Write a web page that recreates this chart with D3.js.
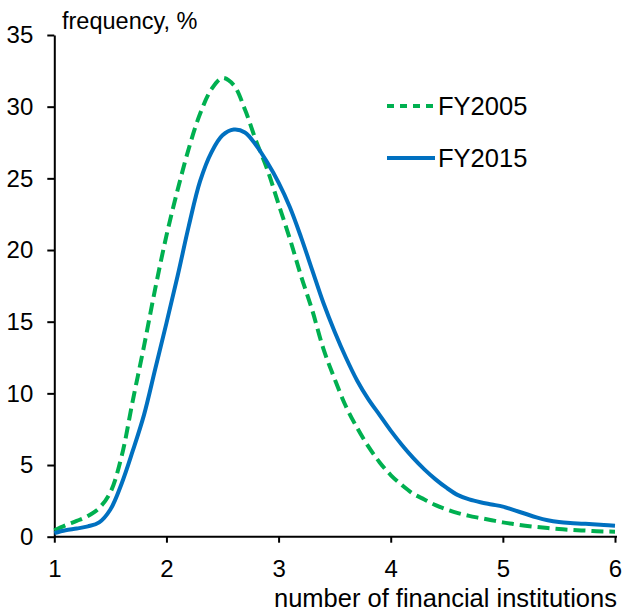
<!DOCTYPE html>
<html lang="en">
<head>
    <meta charset="UTF-8">
    <title>Frequency by number of financial institutions</title>
    <script src="https://d3js.org/d3.v7.min.js"></script>
    <style>
        body {
            margin: 0;
            background: #fff;
            font-family: "Liberation Sans", Arial, sans-serif;
        }
        .axis path, .axis line {
            stroke: #000;
            stroke-width: 2px;
        }
        .axis text {
            font-family: "Liberation Sans", Arial, sans-serif;
            font-size: 24px;
            fill: #000;
        }
        .label {
            fill: #000;
        }
        .legend text {
            font-size: 25.5px;
            fill: #000;
        }
    </style>
</head>
<body>
    <svg width="623" height="613"></svg>

    <script>
        // number of financial institutions (x positions of the readings)
        const xs = [
            1.0, 1.1, 1.2, 1.3, 1.4, 1.5, 1.6, 1.7, 1.8, 1.9,
            2.0, 2.1, 2.2, 2.3, 2.4, 2.5, 2.6, 2.7, 2.8, 2.9,
            3.0, 3.1, 3.2, 3.3, 3.4, 3.5, 3.6, 3.7, 3.8, 3.9,
            4.0, 4.1, 4.2, 4.3, 4.4, 4.5, 4.6, 4.7, 4.8, 4.9,
            5.0, 5.1, 5.2, 5.3, 5.4, 5.5, 5.6, 5.7, 5.8, 5.9, 6.0
        ];

        // frequency, %
        const fy2005 = [
            0.45, 0.8, 1.1, 1.45, 2.0, 3.1, 5.6, 9.5, 13.3, 17.3,
            21.0, 24.2, 27.1, 29.5, 31.2, 32.0, 31.5, 29.8, 27.6, 25.6,
            23.2, 20.8, 18.2, 15.8, 13.1, 11.0, 9.1, 7.6, 6.3, 5.2,
            4.3, 3.6, 3.0, 2.6, 2.2, 1.9, 1.65, 1.45, 1.3, 1.15,
            1.0, 0.88, 0.77, 0.68, 0.6, 0.53, 0.48, 0.44, 0.4, 0.37, 0.35
        ];

        const fy2015 = [
            0.25, 0.45, 0.57, 0.72, 1.0, 1.9, 3.7, 6.0, 8.5, 11.7,
            14.9, 18.2, 21.7, 24.8, 26.8, 28.0, 28.4, 28.2, 27.3, 26.1,
            24.7, 23.0, 20.9, 18.6, 16.3, 14.3, 12.5, 10.9, 9.6, 8.5,
            7.4, 6.4, 5.5, 4.7, 4.0, 3.4, 2.9, 2.6, 2.4, 2.25,
            2.1, 1.85, 1.6, 1.35, 1.15, 1.02, 0.95, 0.91, 0.87, 0.82, 0.77
        ];

        const xTicks = [1, 2, 3, 4, 5, 6];
        const yTicks = [0, 5, 10, 15, 20, 25, 30, 35];

        const series = [
            { name: "FY2005", values: fy2005, color: "#00B050", dash: "12,6", legendDash: "7,6" },
            { name: "FY2015", values: fy2015, color: "#0070C0", dash: null, legendDash: null }
        ];

        const svg = d3.select("svg");

        const x = d3.scaleLinear().domain([1, 6]).range([54.3, 615]);
        const y = d3.scaleLinear().domain([0, 35]).range([536.7, 35]);

        // axes
        svg.append("g")
            .attr("class", "axis")
            .attr("transform", `translate(0,${y(0)})`)
            .call(d3.axisBottom(x).tickValues(xTicks).tickFormat(d3.format("d"))
                .tickSize(6).tickSizeOuter(0).tickPadding(17))
            .call(g => g.select(".domain").attr("d", `M${x(1)},0H${x(6) + 2}`));

        svg.append("g")
            .attr("class", "axis")
            .attr("transform", `translate(${x(1)},0)`)
            .call(d3.axisLeft(y).tickValues(yTicks).tickSize(7).tickSizeOuter(0).tickPadding(14));

        // curves
        const line = d3.line()
            .x((d, i) => x(xs[i]))
            .y(d => y(d))
            .curve(d3.curveCatmullRom.alpha(0.5));

        svg.selectAll(".series")
            .data(series)
            .enter().append("path")
            .attr("class", "series")
            .attr("fill", "none")
            .attr("stroke", d => d.color)
            .attr("stroke-width", 4)
            .attr("stroke-dasharray", d => d.dash)
            .attr("d", d => line(d.values));

        // axis titles
        svg.append("text")
            .attr("class", "label")
            .attr("x", 62)
            .attr("y", 29)
            .style("font-size", "23.5px")
            .text("frequency, %");

        svg.append("text")
            .attr("class", "label")
            .attr("x", 617)
            .attr("y", 607)
            .attr("text-anchor", "end")
            .style("font-size", "25.5px")
            .text("number of financial institutions");

        // legend
        const legend = svg.append("g").attr("class", "legend");
        const rows = legend.selectAll("g")
            .data(series)
            .enter().append("g")
            .attr("transform", (d, i) => `translate(387,${106 + i * 52})`);

        rows.append("line")
            .attr("x1", 0)
            .attr("x2", 48)
            .attr("stroke", d => d.color)
            .attr("stroke-width", 4)
            .attr("stroke-dasharray", d => d.legendDash);

        rows.append("text")
            .attr("x", 51)
            .attr("y", 9)
            .text(d => d.name);
    </script>
</body>
</html>
